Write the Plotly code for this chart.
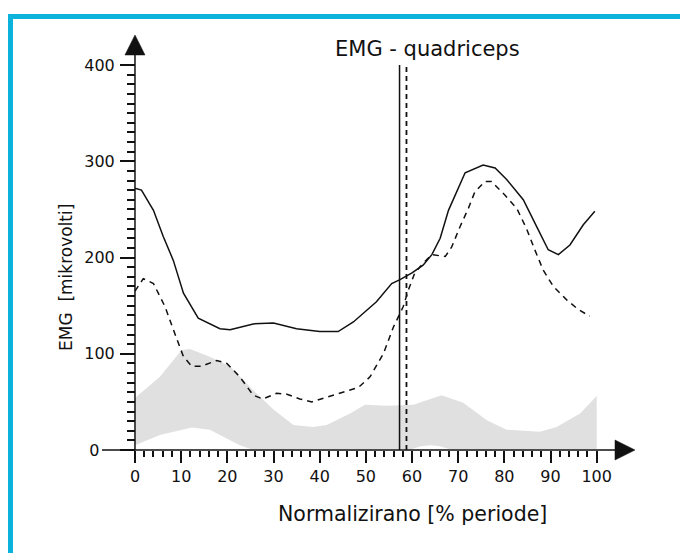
import plotly.graph_objects as go

# ---------------- data ----------------
solid_x = [0, 1.4, 4, 6.1, 8.3, 10.5, 13.7, 18.4, 20.6, 25.6, 30, 35, 40, 44, 47.3,
           52.3, 55.6, 57.4, 60, 62.4, 64.3, 66.1, 67.9, 71.5, 75.4, 78, 80.5, 84.1,
           87, 89.5, 91.7, 94.2, 97.1, 99.6]
solid_y = [272, 270, 249, 222, 197, 163, 137, 126, 125, 131, 132, 126, 123, 123, 133,
           154, 173, 177, 184, 192, 203, 220, 249, 288, 296, 293, 281, 260,
           232, 208, 203, 213, 234, 248]

dashed_x = [0, 1.8, 4, 6.5, 8.7, 10.5, 12.3, 14.4, 17.7, 19.9, 22.7, 25.6, 27.7, 30.7,
            32.9, 35.7, 38.3, 41.5, 45.8, 48.4, 50.9, 53.8, 56, 58.1, 59.2, 60.6, 62.4,
            64.3, 67.2, 68.6, 70.4, 72.2, 73.6, 75.8, 77.2, 80.1, 82.7, 84.8, 86.6,
            88.4, 90.6, 93.5, 96, 98.5]
dashed_y = [165, 178, 173, 149, 120, 97, 87, 87, 93, 90, 76, 57, 53, 59,
            58, 53, 50, 55, 61, 65, 76, 100, 128, 149, 166, 184, 194,
            203, 201, 211, 232, 251, 268, 279, 279, 265, 251, 230, 208,
            187, 170, 156, 146, 139]

band_upper_x = [0, 5.4, 10.1, 11.9, 16.2, 20.6, 25.6, 30, 34.3, 38.6, 41.5, 46.6, 49.8,
                54.5, 60.3, 66.4, 71.1, 76.2, 80.5, 87.7, 91.3, 96.4, 100]
band_upper_y = [54, 76, 104, 105, 97, 87, 62, 42, 26, 24, 26, 38, 47,
                46, 47, 57, 49, 31, 21, 19, 24, 38, 56]
band_lower_x = [0, 5.4, 12.3, 16.2, 20.6, 22.7, 25, 60, 62, 64, 66, 68, 100]
band_lower_y = [5, 15.6, 23.5, 21, 10.4, 5, 1, 1, 4, 5, 4, 1, 1]

marker_solid_x = 57.3
marker_dashed_x = 58.8
marker_top = 400

x_tick_vals = [0, 10, 20, 30, 40, 50, 60, 70, 80, 90, 100]
x_tick_text = ["0", "10", "20", "30", "40", "50", "60", "70", "80", "90", "100"]
x_minor_vals = [v for v in range(0, 101, 2) if v % 10 != 0]
y_tick_vals = [0, 100, 200, 300, 400]
y_tick_text = ["0&nbsp;&nbsp;&nbsp;", "100", "200", "300", "400"]
y_minor_vals = [v for v in range(0, 401, 10) if v % 100 != 0]

title_text = "EMG - quadriceps"
x_title = "Normalizirano [% periode]"
y_title = "EMG&nbsp; [mikrovolti]"

# ---------------- layout geometry ----------------
W, H = 680, 553
ML, MR, MT, MB = 95, 40, 30, 88
PW, PH = W - ML - MR, H - MT - MB
X_RANGE = [-8.66, 109.38]
Y_RANGE = [-15.58, 436.36]


def px(x):
    return (x - ML) / PW


def py(y):
    return (H - MB - y) / PH


FONT = "DejaVu Sans"
INK = "#111111"

fig = go.Figure()

# gray band
fig.add_trace(go.Scatter(
    x=band_upper_x + band_lower_x[::-1],
    y=band_upper_y + band_lower_y[::-1],
    mode="lines", fill="toself", fillcolor="rgb(224,224,224)",
    line=dict(width=0), hoverinfo="skip", showlegend=False))

# dashed curve
fig.add_trace(go.Scatter(x=dashed_x, y=dashed_y, mode="lines",
                         line=dict(color=INK, width=1.5, dash="6px,5px"),
                         showlegend=False))
# solid curve
fig.add_trace(go.Scatter(x=solid_x, y=solid_y, mode="lines",
                         line=dict(color=INK, width=1.5), showlegend=False))

# vertical markers
fig.add_trace(go.Scatter(x=[marker_solid_x, marker_solid_x], y=[0, marker_top],
                         mode="lines", line=dict(color=INK, width=1.5), showlegend=False))
fig.add_trace(go.Scatter(x=[marker_dashed_x, marker_dashed_x], y=[0, marker_top],
                         mode="lines", line=dict(color=INK, width=1.8, dash="5px,4px"),
                         showlegend=False))

shapes = []
# axis lines
shapes.append(dict(type="line", xref="x", yref="y", x0=-7.15, x1=105, y0=0, y1=0,
                   line=dict(color=INK, width=1.5)))
shapes.append(dict(type="line", xref="x", yref="y", x0=0, x1=0, y0=0, y1=415,
                   line=dict(color=INK, width=1.5)))
# arrow heads
shapes.append(dict(type="path", xref="x", yref="y",
                   path="M -2.17 410.4 L 2.17 410.4 L 0 431.2 Z",
                   fillcolor=INK, line=dict(color=INK, width=0.5)))
shapes.append(dict(type="path", xref="x", yref="y",
                   path="M 103.96 -10.39 L 103.96 10.39 L 108.3 0 Z",
                   fillcolor=INK, line=dict(color=INK, width=0.5)))
# cyan frame (top and left)
CY = "#0ab2dc"
shapes.append(dict(type="rect", xref="paper", yref="paper",
                   x0=px(8), x1=px(680), y0=py(19), y1=py(14),
                   fillcolor=CY, line=dict(width=0), layer="below"))
shapes.append(dict(type="rect", xref="paper", yref="paper",
                   x0=px(8), x1=px(13), y0=py(553), y1=py(14),
                   fillcolor=CY, line=dict(width=0), layer="below"))

annotations = [
    dict(text=title_text, xref="paper", yref="paper", x=px(427), y=py(49),
         xanchor="center", yanchor="middle", showarrow=False,
         font=dict(family=FONT, size=21, color=INK)),
    dict(text=x_title, xref="paper", yref="paper", x=px(412), y=py(514),
         xanchor="center", yanchor="middle", showarrow=False,
         font=dict(family=FONT, size=20.5, color=INK)),
    dict(text=y_title, xref="paper", yref="paper", x=px(66), y=py(278),
         xanchor="center", yanchor="middle", showarrow=False, textangle=-90,
         font=dict(family=FONT, size=17, color=INK)),
]

fig.update_layout(
    width=W, height=H,
    margin=dict(l=ML, r=MR, t=MT, b=MB, pad=0, autoexpand=False),
    paper_bgcolor="white", plot_bgcolor="white",
    shapes=shapes, annotations=annotations,
    xaxis=dict(range=X_RANGE, anchor="free", position=(H - MB - 450) / PH,
               showgrid=False, zeroline=False,
               showline=True, linecolor="rgba(0,0,0,0)", linewidth=1,
               tickmode="array", tickvals=x_tick_vals, ticktext=x_tick_text,
               ticks="outside", ticklen=12, tickwidth=1.5, tickcolor=INK,
               tickfont=dict(family=FONT, size=16, color=INK),
               minor=dict(tickmode="array", tickvals=x_minor_vals, ticks="outside",
                          ticklen=6, tickwidth=1.5, tickcolor=INK, showgrid=False),
               fixedrange=True),
    yaxis=dict(range=Y_RANGE, anchor="free", position=px(135),
               showgrid=False, zeroline=False,
               showline=True, linecolor="rgba(0,0,0,0)", linewidth=1,
               tickmode="array", tickvals=y_tick_vals, ticktext=y_tick_text,
               ticks="outside", ticklen=15, tickwidth=1.5, tickcolor=INK,
               tickfont=dict(family=FONT, size=16, color=INK),
               ticklabelstandoff=2,
               minor=dict(tickmode="array", tickvals=y_minor_vals, ticks="outside",
                          ticklen=8, tickwidth=1.5, tickcolor=INK, showgrid=False),
               fixedrange=True),
)

fig.write_html(
    "out.html",
    config={"displayModeBar": False},
    post_script="document.body.style.margin='0';document.body.style.overflow='hidden';",
)
